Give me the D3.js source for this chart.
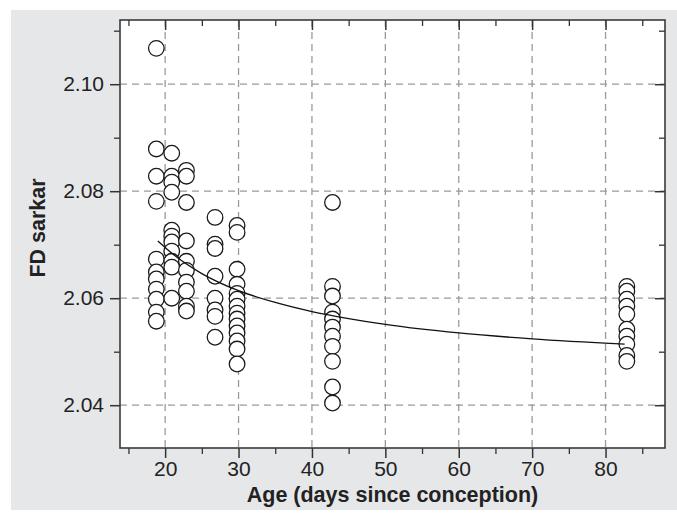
<!DOCTYPE html>
<html>
<head>
<meta charset="utf-8">
<script src="https://cdn.jsdelivr.net/npm/d3@7"></script>
<style>
  html, body { margin: 0; padding: 0; background: #ffffff; }
  svg { display: block; }
</style>
</head>
<body>
<svg id="chart" width="677" height="516"></svg>
<script>
// ---- data ----
const ages = [18.8, 20.9, 22.9, 26.8, 29.8, 42.8, 82.9];
const fd_19 = [2.1067, 2.0879, 2.0828, 2.0781, 2.0673, 2.0649, 2.0636, 2.0617, 2.0598, 2.0574, 2.0557];
const fd_21 = [2.0871, 2.0828, 2.0817, 2.0798, 2.0727, 2.0716, 2.0705, 2.0688, 2.0669, 2.0658, 2.0600];
const fd_23 = [2.0839, 2.0828, 2.0779, 2.0707, 2.0669, 2.0652, 2.0630, 2.0613, 2.0585, 2.0576];
const fd_27 = [2.0751, 2.0701, 2.0693, 2.0641, 2.0600, 2.0578, 2.0566, 2.0527];
const fd_30 = [2.0736, 2.0723, 2.0654, 2.0626, 2.0609, 2.0598, 2.0585, 2.0572, 2.0561, 2.0548, 2.0535, 2.0520, 2.0505, 2.0477];
const fd_43 = [2.0779, 2.0622, 2.0604, 2.0574, 2.0561, 2.0546, 2.0529, 2.0510, 2.0482, 2.0434, 2.0404];
const fd_83 = [2.0622, 2.0613, 2.0598, 2.0585, 2.0570, 2.0542, 2.0529, 2.0514, 2.0493, 2.0482];
const fdColumns = [fd_19, fd_21, fd_23, fd_27, fd_30, fd_43, fd_83];

// fitted curve
const fitAge = [19, 21, 25, 30, 35, 40, 45, 50, 60, 70, 82.6];
const fitFD  = [2.0707, 2.0683, 2.0646, 2.0614, 2.0592, 2.0575, 2.0562, 2.0551, 2.0535, 2.0524, 2.0514];

const xTicks = [20, 30, 40, 50, 60, 70, 80];
const xMinor = [15, 25, 35, 45, 55, 65, 75, 85];
const yTicks = [2.04, 2.06, 2.08, 2.10];
const yMinor = [2.05, 2.07, 2.09, 2.11];
const xTitle = "Age (days since conception)";
const yTitle = "FD sarkar";

// ---- layout ----
const svg = d3.select("#chart");
const L = 120, R = 665, T = 20, B = 448;

svg.append("rect").attr("x", 11).attr("y", 10).attr("width", 666).attr("height", 500)
  .attr("fill", "#e6e7e9");
svg.append("rect").attr("x", L).attr("y", T).attr("width", R - L).attr("height", B - T)
  .attr("fill", "#ffffff");

const x = d3.scaleLinear().domain([13.85, 88.1]).range([L, R]);
const y = d3.scaleLinear().domain([2.032, 2.112]).range([B, T]);

// grid
const grid = svg.append("g").attr("stroke", "#9a9a9a").attr("stroke-width", 1.3)
  .attr("stroke-dasharray", "7,5").attr("fill", "none");
grid.selectAll(".gx").data(xTicks).join("line")
  .attr("x1", d => x(d)).attr("x2", d => x(d)).attr("y1", T).attr("y2", B);
grid.selectAll(".gy").data(yTicks).join("line")
  .attr("y1", d => y(d)).attr("y2", d => y(d)).attr("x1", L).attr("x2", R);

// axes
const font = "'Liberation Sans', Arial, Helvetica, sans-serif";
function styleAxis(g, sw) {
  g.select(".domain").remove();
  g.selectAll(".tick line").attr("stroke", "#333").attr("stroke-width", sw);
  g.selectAll(".tick text").attr("fill", "#222").style("font-family", font).style("font-size", "21px");
}
// bottom
svg.append("g").attr("transform", `translate(0,${B})`)
  .call(d3.axisBottom(x).tickValues(xTicks).tickSize(10).tickPadding(3).tickFormat(d3.format("d")))
  .call(g => styleAxis(g, 1.5));
svg.append("g").attr("transform", `translate(0,${B})`)
  .call(d3.axisBottom(x).tickValues(xMinor).tickSize(6).tickFormat(""))
  .call(g => styleAxis(g, 1.3));
// top (ticks pointing down into the plot)
svg.append("g").attr("transform", `translate(0,${T})`)
  .call(d3.axisBottom(x).tickValues(xTicks).tickSize(10).tickFormat(""))
  .call(g => styleAxis(g, 1.5));
svg.append("g").attr("transform", `translate(0,${T})`)
  .call(d3.axisBottom(x).tickValues(xMinor).tickSize(6).tickFormat(""))
  .call(g => styleAxis(g, 1.3));
// left
svg.append("g").attr("transform", `translate(${L},0)`)
  .call(d3.axisLeft(y).tickValues(yTicks).tickSize(10).tickPadding(6).tickFormat(d3.format(".2f")))
  .call(g => styleAxis(g, 1.5));
svg.append("g").attr("transform", `translate(${L},0)`)
  .call(d3.axisLeft(y).tickValues(yMinor).tickSize(6).tickFormat(""))
  .call(g => styleAxis(g, 1.3));
// right (ticks pointing left into the plot)
svg.append("g").attr("transform", `translate(${R},0)`)
  .call(d3.axisLeft(y).tickValues(yTicks).tickSize(10).tickFormat(""))
  .call(g => styleAxis(g, 1.5));
svg.append("g").attr("transform", `translate(${R},0)`)
  .call(d3.axisLeft(y).tickValues(yMinor).tickSize(6).tickFormat(""))
  .call(g => styleAxis(g, 1.3));

// frame
svg.append("rect").attr("x", L).attr("y", T).attr("width", R - L).attr("height", B - T)
  .attr("fill", "none").attr("stroke", "#3a3a3a").attr("stroke-width", 1.6);

// points
const pts = [];
fdColumns.forEach((col, i) => col.forEach(v => pts.push({ a: ages[i], v })));
svg.append("g").selectAll("circle").data(pts).join("circle")
  .attr("cx", d => x(d.a)).attr("cy", d => y(d.v)).attr("r", 7.8)
  .attr("fill", "#ffffff").attr("stroke", "#1a1a1a").attr("stroke-width", 1.3);

// fitted curve
const fit = fitAge.map((a, i) => [a, fitFD[i]]);
svg.append("path").datum(fit)
  .attr("d", d3.line().x(d => x(d[0])).y(d => y(d[1])).curve(d3.curveMonotoneX))
  .attr("fill", "none").attr("stroke", "#111").attr("stroke-width", 1.3);

// titles
svg.append("text").attr("x", (L + R) / 2).attr("y", 502).attr("text-anchor", "middle")
  .style("font-family", font).style("font-size", "21.5px").style("font-weight", "bold")
  .attr("fill", "#222").text(xTitle);
svg.append("text").attr("transform", `translate(45,228) rotate(-90)`).attr("text-anchor", "middle")
  .style("font-family", font).style("font-size", "21.5px").style("font-weight", "bold")
  .attr("fill", "#222").text(yTitle);
</script>
</body>
</html>
